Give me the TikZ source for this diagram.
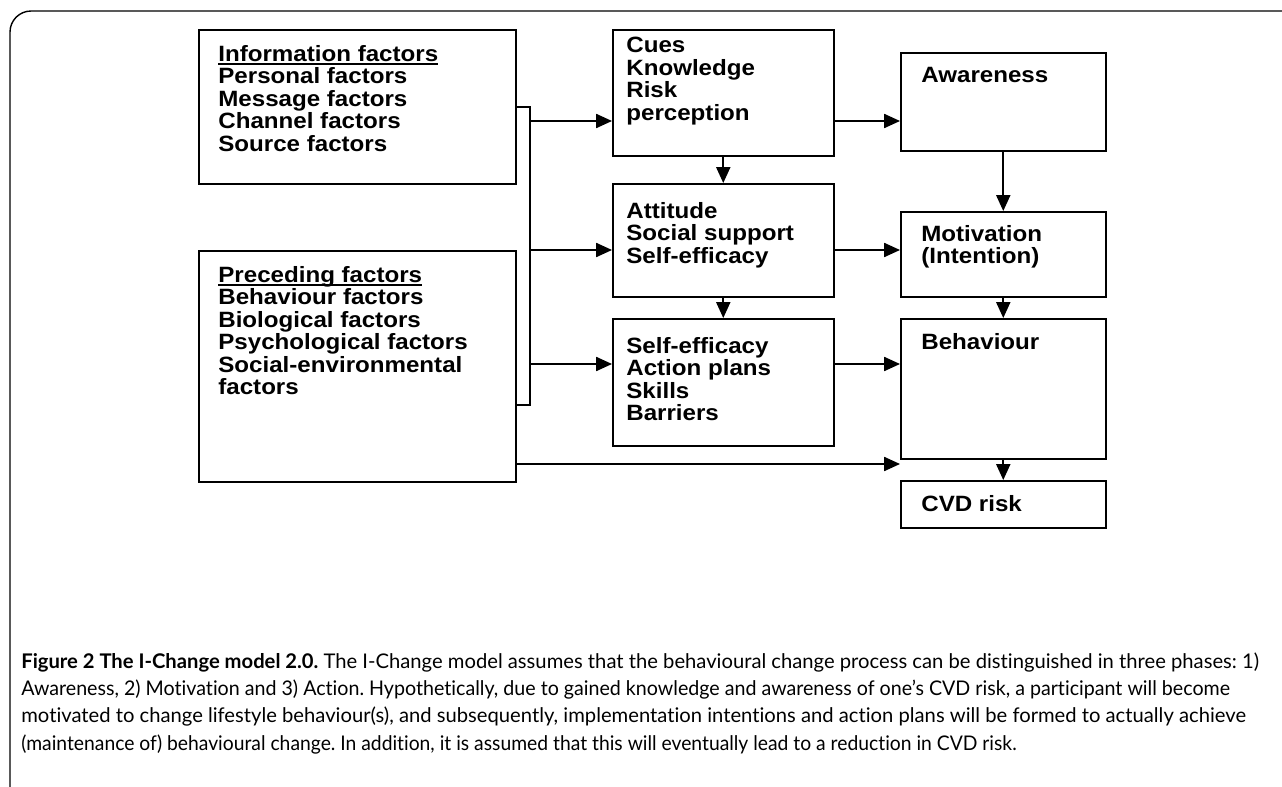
\documentclass[tikz,border=0pt]{standalone}
\usepackage{fontspec}
\usepackage{graphicx}
\setmainfont{Liberation Sans}
\newfontfamily\boxfam[FakeStretch=1.09]{Liberation Sans}
\newfontfamily\capfont[Ligatures=NoCommon]{Lato}
\usetikzlibrary{arrows.meta}
\frenchspacing
\newcommand\heading[1]{\setbox0\hbox{#1}\rlap{\rule[-2.2pt]{\wd0}{1.3pt}}\box0}
\newcommand\boxfont{\boxfam\fontsize{12.6}{12.8}\selectfont\bfseries\lineskiplimit=-6pt\relax}
\begin{document}
\begin{tikzpicture}[
    x=0.02cm, y=-0.02cm,
    box/.style={draw, line width=0.9pt, anchor=north west, inner sep=0pt},
    boxtext/.style={anchor=north west, align=left, inner sep=0pt, font=\boxfont},
    link/.style={-{Triangle[length=9pt,width=8pt]}, line width=0.9pt}
]
\useasboundingbox (0,0) rectangle (1282,787);
% outer frame
\draw[line width=0.8pt, rounded corners=12pt] (1282,11) -- (10,11) -- (10,787);
% left column
\node[box, minimum width=6.34cm, minimum height=3.08cm] (info) at (198,29) {};
\node[boxtext] (infotext) at ([shift={(20,16)}]info.north west)
  {\heading{Information factors}\\ Personal factors\\ Message factors\\ Channel factors\\ Source factors};
\node[box, minimum width=6.34cm, minimum height=4.62cm] (prec) at (198,250) {};
\node[boxtext] (prectext) at ([shift={(20,16)}]prec.north west)
  {\heading{Preceding factors}\\ Behaviour factors\\ Biological factors\\ Psychological factors\\ Social-environmental\\ factors};
% middle column
\node[box, minimum width=4.42cm, minimum height=2.52cm] (cues) at (612,29) {};
\node[boxtext] (cuestext) at ([shift={(14,8)}]cues.north west)
  {Cues\\ Knowledge\\ Risk\\ perception};
\node[box, minimum width=4.42cm, minimum height=2.26cm] (att) at (612,183) {};
\node[boxtext] (atttext) at ([shift={(14,19)}]att.north west)
  {Attitude\\ Social support\\ Self-efficacy};
\node[box, minimum width=4.42cm, minimum height=2.54cm] (seff) at (612,318) {};
\node[boxtext] (sefftext) at ([shift={(14,19)}]seff.north west)
  {Self-efficacy\\ Action plans\\ Skills\\ Barriers};
% right column
\node[box, minimum width=4.1cm, minimum height=1.96cm] (aware) at (900,52) {};
\node[boxtext] (awaretext) at ([shift={(21,15)}]aware.north west) {Awareness};
\node[box, minimum width=4.1cm, minimum height=1.7cm] (motiv) at (900,211) {};
\node[boxtext] (motivtext) at ([shift={(21,14)}]motiv.north west) {Motivation\\ (Intention)};
\node[box, minimum width=4.1cm, minimum height=2.8cm] (behav) at (900,318) {};
\node[boxtext] (behavtext) at ([shift={(21,15)}]behav.north west) {Behaviour};
\node[box, minimum width=4.1cm, minimum height=0.94cm] (cvd) at (900,480) {};
\node[boxtext] (cvdtext) at ([shift={(21,15)}]cvd.north west) {CVD risk};
% bus between left and middle column
\coordinate (busA) at (530,121);
\coordinate (busB) at (530,250);
\coordinate (busC) at (530,364);
\coordinate (precOut) at (530,405);
\coordinate (precLong) at (530,464);
\draw[line width=0.9pt] (info.east) -| (precOut) -- (prec.east |- precOut);
\draw[link] (busA) -- (cues.west |- busA);
\draw[link] (busB) -- (att.west |- busB);
\draw[link] (busC) -- (seff.west |- busC);
\draw[link] (prec.east |- precLong) -- (behav.west |- precLong);
% middle to right
\draw[link] (cues.east |- busA) -- (aware.west |- busA);
\draw[link] (att.east |- busB) -- (motiv.west |- busB);
\draw[link] (seff.east |- busC) -- (behav.west |- busC);
\draw[link] (cues) -- (att);
\draw[link] (att) -- (seff);
\draw[link] (aware) -- (motiv);
\draw[link] (motiv) -- (behav);
\draw[link] (behav) -- (cvd);
% caption
\node[anchor=north west, align=left, inner sep=0pt,
      font=\capfont\fontsize{11.5}{15.6}\selectfont] (caption) at (21,652)
  {{\bfseries Figure 2 The I-Change model 2.0.} The I-Change model assumes that the behavioural change process can be distinguished in three phases: 1)\\
   \scalebox{0.972}[1]{Awareness, 2) Motivation and 3) Action. Hypothetically, due to gained knowledge and awareness of one’s CVD risk, a participant will become}\\
   motivated to change lifestyle behaviour(s), and subsequently, implementation intentions and action plans will be formed to actually achieve\\
   \scalebox{0.955}[1]{(maintenance of) behavioural change. In addition, it is assumed that this will eventually lead to a reduction in CVD risk.}};
\end{tikzpicture}
\end{document}
